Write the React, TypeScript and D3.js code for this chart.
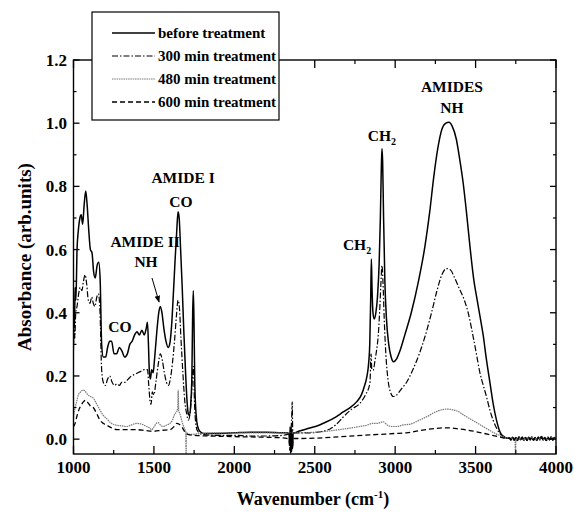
import React from 'react';
import * as d3 from 'd3';

const xTicks = [1000, 1500, 2000, 2500, 3000, 3500, 4000];
const yTicks = [0.0, 0.2, 0.4, 0.6, 0.8, 1.0, 1.2];
const seriesNames = ['before treatment', '300 min treatment', '480 min treatment', '600 min treatment'];

const tailNoise: [number, number][] = [
  [3710, 0.004], [3720, -0.002], [3730, 0.006], [3740, -0.003], [3750, 0.005], [3760, -0.004],
  [3770, 0.007], [3780, -0.002], [3790, 0.006], [3800, -0.003], [3810, 0.005], [3820, -0.004],
  [3830, 0.006], [3840, -0.002], [3850, 0.007], [3860, -0.003], [3870, 0.005], [3880, -0.004],
  [3890, 0.006], [3900, -0.002], [3910, 0.008], [3920, -0.003], [3930, 0.005], [3940, -0.004],
  [3950, 0.006], [3960, -0.002], [3970, 0.007], [3980, -0.003], [3990, 0.005], [4000, 0.0],
];

const beforeTreatment: [number, number][] = [
  [1000, 0.30], [1003, 0.42], [1006, 0.36], [1010, 0.48], [1015, 0.44], [1022, 0.60], [1030, 0.66],
  [1040, 0.70], [1048, 0.71], [1057, 0.68], [1066, 0.74], [1076, 0.785], [1085, 0.74], [1095, 0.66],
  [1105, 0.60], [1115, 0.59], [1125, 0.53], [1135, 0.51], [1147, 0.55], [1157, 0.56], [1166, 0.50],
  [1175, 0.30], [1185, 0.26], [1200, 0.26], [1212, 0.29], [1225, 0.31], [1237, 0.31], [1252, 0.27],
  [1268, 0.27], [1285, 0.29], [1300, 0.28], [1318, 0.26], [1335, 0.27], [1350, 0.30], [1365, 0.31],
  [1380, 0.33], [1395, 0.34], [1410, 0.33], [1425, 0.345], [1440, 0.33], [1452, 0.35], [1460, 0.37],
  [1466, 0.30], [1472, 0.21], [1478, 0.19], [1486, 0.22], [1495, 0.21], [1505, 0.26], [1518, 0.34],
  [1530, 0.40], [1540, 0.42], [1550, 0.40], [1562, 0.35], [1575, 0.31], [1588, 0.29], [1598, 0.30],
  [1610, 0.36], [1622, 0.47], [1632, 0.57], [1642, 0.66], [1650, 0.72], [1657, 0.70], [1666, 0.60],
  [1676, 0.48], [1686, 0.34], [1696, 0.22], [1706, 0.12], [1714, 0.08], [1722, 0.075], [1730, 0.12],
  [1736, 0.20], [1741, 0.40], [1745, 0.47], [1749, 0.38], [1754, 0.18], [1762, 0.08], [1772, 0.04],
  [1785, 0.025], [1810, 0.018], [1900, 0.018], [2000, 0.02], [2100, 0.022], [2200, 0.022],
  [2300, 0.02], [2330, 0.02], [2340, 0.015], [2344, -0.02], [2347, 0.04], [2350, -0.045],
  [2353, 0.035], [2356, -0.04], [2359, 0.03], [2362, -0.03], [2366, 0.02], [2372, 0.02],
  [2400, 0.025], [2470, 0.035], [2530, 0.045], [2574, 0.055], [2630, 0.07], [2677, 0.086],
  [2720, 0.10], [2760, 0.118], [2790, 0.14], [2810, 0.17], [2825, 0.20], [2835, 0.24], [2842, 0.30],
  [2848, 0.45], [2852, 0.57], [2856, 0.48], [2862, 0.40], [2870, 0.38], [2880, 0.40], [2890, 0.45],
  [2900, 0.55], [2908, 0.70], [2914, 0.86], [2918, 0.92], [2922, 0.88], [2928, 0.70], [2936, 0.50],
  [2946, 0.38], [2960, 0.30], [2975, 0.26], [2990, 0.245], [3010, 0.255], [3030, 0.28], [3060, 0.33],
  [3100, 0.40], [3145, 0.50], [3185, 0.61], [3215, 0.72], [3240, 0.83], [3265, 0.92], [3290, 0.98],
  [3315, 1.0], [3335, 1.003], [3355, 0.99], [3380, 0.95], [3400, 0.89], [3423, 0.81], [3445, 0.71],
  [3465, 0.61], [3490, 0.50], [3510, 0.44], [3527, 0.39], [3547, 0.33], [3568, 0.25], [3589, 0.18],
  [3610, 0.11], [3630, 0.06], [3650, 0.025], [3671, 0.008], [3700, 0.003],
  ...tailNoise,
];

const treatment300: [number, number][] = [
  [1000, 0.28], [1004, 0.38], [1008, 0.32], [1014, 0.40], [1022, 0.42], [1032, 0.46], [1042, 0.48],
  [1052, 0.47], [1062, 0.50], [1072, 0.52], [1082, 0.49], [1092, 0.44], [1103, 0.43], [1113, 0.45],
  [1123, 0.43], [1133, 0.42], [1145, 0.45], [1155, 0.46], [1165, 0.40], [1175, 0.22], [1185, 0.18],
  [1198, 0.17], [1212, 0.19], [1225, 0.20], [1240, 0.18], [1255, 0.17], [1270, 0.175], [1285, 0.17],
  [1300, 0.18], [1320, 0.18], [1340, 0.19], [1360, 0.20], [1380, 0.205], [1400, 0.21], [1420, 0.215],
  [1440, 0.22], [1460, 0.22], [1468, 0.17], [1476, 0.12], [1482, 0.11], [1490, 0.15], [1500, 0.14],
  [1512, 0.18], [1525, 0.23], [1540, 0.27], [1552, 0.25], [1565, 0.21], [1578, 0.18], [1590, 0.17],
  [1602, 0.19], [1615, 0.24], [1628, 0.31], [1640, 0.39], [1650, 0.44], [1658, 0.42], [1668, 0.32],
  [1680, 0.21], [1692, 0.12], [1704, 0.08], [1714, 0.06], [1724, 0.08], [1734, 0.14], [1742, 0.22],
  [1746, 0.23], [1752, 0.12], [1760, 0.05], [1772, 0.025], [1800, 0.015], [1900, 0.012],
  [2000, 0.012], [2100, 0.01], [2200, 0.01], [2300, 0.012], [2350, 0.02], [2356, 0.06],
  [2360, 0.118], [2363, 0.03], [2370, 0.02], [2470, 0.02], [2574, 0.028], [2630, 0.045],
  [2677, 0.07], [2730, 0.095], [2780, 0.113], [2815, 0.14], [2843, 0.177], [2850, 0.27],
  [2855, 0.22], [2863, 0.218], [2875, 0.25], [2884, 0.28], [2895, 0.33], [2905, 0.42], [2912, 0.50],
  [2918, 0.55], [2924, 0.50], [2932, 0.38], [2942, 0.27], [2955, 0.19], [2970, 0.15], [2988, 0.135],
  [3010, 0.14], [3040, 0.16], [3071, 0.18], [3110, 0.22], [3150, 0.27], [3185, 0.324], [3226, 0.40],
  [3260, 0.47], [3290, 0.52], [3319, 0.54], [3345, 0.535], [3370, 0.51], [3400, 0.475], [3430, 0.44],
  [3454, 0.40], [3485, 0.324], [3505, 0.27], [3527, 0.21], [3548, 0.17], [3568, 0.134], [3590, 0.09],
  [3609, 0.06], [3630, 0.035], [3651, 0.018], [3680, 0.008], [3700, 0.004],
  ...tailNoise,
];

const treatment480: [number, number][] = [
  [1000, 0.07], [1010, 0.10], [1020, 0.12], [1030, 0.14], [1045, 0.15], [1060, 0.155], [1075, 0.15],
  [1090, 0.14], [1105, 0.135], [1123, 0.13], [1140, 0.115], [1165, 0.092], [1185, 0.075],
  [1206, 0.065], [1235, 0.05], [1268, 0.044], [1300, 0.042], [1330, 0.04], [1360, 0.045],
  [1393, 0.05], [1420, 0.048], [1455, 0.04], [1475, 0.035], [1486, 0.03], [1500, 0.038],
  [1515, 0.05], [1527, 0.052], [1540, 0.045], [1558, 0.04], [1580, 0.045], [1600, 0.05],
  [1615, 0.06], [1630, 0.08], [1641, 0.086], [1648, 0.10], [1651, 0.155], [1654, 0.09], [1662, 0.08],
  [1675, 0.055], [1693, 0.03], [1698, 0.025], [1700, -0.05], [1702, 0.02], [1724, 0.015],
  [1800, 0.018], [1900, 0.02], [2000, 0.02], [2100, 0.02], [2200, 0.02], [2300, 0.02], [2400, 0.02],
  [2500, 0.022], [2574, 0.025], [2650, 0.03], [2720, 0.035], [2780, 0.04], [2830, 0.045],
  [2860, 0.05], [2890, 0.05], [2926, 0.055], [2950, 0.045], [2980, 0.04], [3010, 0.04],
  [3050, 0.045], [3097, 0.048], [3150, 0.06], [3200, 0.072], [3260, 0.088], [3320, 0.095],
  [3380, 0.09], [3430, 0.075], [3480, 0.06], [3530, 0.045], [3580, 0.03], [3630, 0.016],
  [3680, 0.007], [3700, 0.004], [3745, 0.002], [3748, -0.05], [3751, 0.002],
  ...tailNoise.filter((d) => d[0] > 3751),
];

const treatment600: [number, number][] = [
  [1000, 0.04], [1010, 0.05], [1020, 0.07], [1035, 0.095], [1050, 0.11], [1065, 0.12], [1075, 0.123],
  [1090, 0.115], [1105, 0.105], [1123, 0.10], [1145, 0.08], [1165, 0.06], [1185, 0.05],
  [1206, 0.044], [1240, 0.035], [1270, 0.03], [1300, 0.03], [1350, 0.03], [1393, 0.03],
  [1450, 0.027], [1500, 0.025], [1550, 0.028], [1600, 0.03], [1625, 0.04], [1641, 0.05],
  [1655, 0.048], [1672, 0.04], [1690, 0.025], [1710, 0.015], [1750, 0.012], [1850, 0.01],
  [2000, 0.008], [2200, 0.006], [2300, 0.004], [2340, 0.0], [2345, -0.035], [2349, 0.02],
  [2352, -0.04], [2356, 0.015], [2360, -0.03], [2366, 0.002], [2400, 0.002], [2500, 0.003],
  [2600, 0.006], [2700, 0.009], [2800, 0.012], [2900, 0.015], [3000, 0.018], [3071, 0.02],
  [3150, 0.027], [3250, 0.034], [3320, 0.036], [3400, 0.032], [3500, 0.024], [3580, 0.015],
  [3650, 0.007], [3700, 0.002],
  ...tailNoise,
];

const annotations: { text: string; sub?: string; x: number; y: number }[] = [
  { text: 'AMIDES', x: 3353, y: 1.099 },
  { text: 'NH', x: 3353, y: 1.032 },
  { text: 'CH', sub: '2', x: 2917, y: 0.944 },
  { text: 'CH', sub: '2', x: 2763, y: 0.599 },
  { text: 'AMIDE I', x: 1681, y: 0.811 },
  { text: 'CO', x: 1668, y: 0.735 },
  { text: 'AMIDE II', x: 1445, y: 0.608 },
  { text: 'NH', x: 1451, y: 0.545 },
  { text: 'CO', x: 1289, y: 0.339 },
];
const arrowFrom: [number, number] = [1488, 0.51];
const arrowTo: [number, number] = [1532, 0.434];

const W = 574;
const H = 517;
const plot = { left: 73.5, right: 556, top: 60, bottom: 454 };
const FONT = "'Liberation Serif', 'Times New Roman', serif";

const styles = [
  { stroke: '#000', width: 1.5, dash: undefined as string | undefined },
  { stroke: '#000', width: 1.2, dash: '6,2,1.5,2' },
  { stroke: '#777', width: 1.2, dash: '1.5,0.8' },
  { stroke: '#000', width: 1.3, dash: '5,3' },
];

export default function App() {
  const x = d3.scaleLinear().domain([1000, 4000]).range([plot.left, plot.right]);
  const y = d3.scaleLinear().domain([-0.047, 1.2]).range([plot.bottom, plot.top]);
  const line = d3
    .line<[number, number]>()
    .x((d) => x(d[0]))
    .y((d) => y(d[1]))
    .curve(d3.curveMonotoneX);
  const series = [beforeTreatment, treatment300, treatment480, treatment600];
  const xMinor = d3.range(1000, 4001, 250).filter((v) => !xTicks.includes(v));
  const yMinor = [0.1, 0.3, 0.5, 0.7, 0.9, 1.1];

  const legend = { left: 92, right: 279, top: 12, bottom: 120, x0: 112, x1: 155, tx: 158, ys: [33, 56, 79, 102] };

  return (
    <svg width={W} height={H} style={{ position: 'absolute', left: 0, top: 0, background: '#fff' }}>
      <defs>
        <clipPath id="plotclip">
          <rect x={plot.left} y={plot.top} width={plot.right - plot.left} height={plot.bottom - plot.top} />
        </clipPath>
        <marker id="arrowhead" viewBox="0 0 10 10" refX="9" refY="5" markerWidth="7" markerHeight="7" orient="auto">
          <path d="M0,1 L10,5 L0,9 Z" fill="#000" />
        </marker>
      </defs>
      <rect x={0} y={0} width={W} height={H} fill="#fff" />
      <g clipPath="url(#plotclip)">
        {series.map((s, i) => (
          <path
            key={i}
            d={line(s) || ''}
            fill="none"
            stroke={styles[i].stroke}
            strokeWidth={styles[i].width}
            strokeDasharray={styles[i].dash}
            strokeLinejoin="round"
          />
        ))}
      </g>
      <rect
        x={plot.left}
        y={plot.top}
        width={plot.right - plot.left}
        height={plot.bottom - plot.top}
        fill="none"
        stroke="#000"
        strokeWidth={1.4}
      />
      {xTicks.map((t) => (
        <g key={'xt' + t}>
          <line x1={x(t)} x2={x(t)} y1={plot.bottom} y2={plot.bottom - 8} stroke="#000" strokeWidth={1.3} />
          <line x1={x(t)} x2={x(t)} y1={plot.top} y2={plot.top + 8} stroke="#000" strokeWidth={1.3} />
          <text x={x(t)} y={473} textAnchor="middle" fontFamily={FONT} fontWeight="bold" fontSize={17}>
            {t}
          </text>
        </g>
      ))}
      {xMinor.map((t) => (
        <g key={'xm' + t}>
          <line x1={x(t)} x2={x(t)} y1={plot.bottom} y2={plot.bottom - 4} stroke="#000" strokeWidth={1.2} />
          <line x1={x(t)} x2={x(t)} y1={plot.top} y2={plot.top + 4} stroke="#000" strokeWidth={1.2} />
        </g>
      ))}
      {yTicks.map((t) => (
        <g key={'yt' + t}>
          <line x1={plot.left} x2={plot.left + 6} y1={y(t)} y2={y(t)} stroke="#000" strokeWidth={1.3} />
          <line x1={plot.right} x2={plot.right - 6} y1={y(t)} y2={y(t)} stroke="#000" strokeWidth={1.3} />
          <text
            x={67}
            y={y(t)}
            dy="0.35em"
            textAnchor="end"
            fontFamily={FONT}
            fontWeight="bold"
            fontSize={17}
          >
            {t.toFixed(1)}
          </text>
        </g>
      ))}
      {yMinor.map((t) => (
        <g key={'ym' + t}>
          <line x1={plot.left} x2={plot.left + 3} y1={y(t)} y2={y(t)} stroke="#000" strokeWidth={1.2} />
          <line x1={plot.right} x2={plot.right - 3} y1={y(t)} y2={y(t)} stroke="#000" strokeWidth={1.2} />
        </g>
      ))}
      <text x={313} y={505} textAnchor="middle" fontFamily={FONT} fontWeight="bold" fontSize={18}>
        Wavenumber (cm
        <tspan dy={-7} fontSize={11}>
          -1
        </tspan>
        <tspan dy={7}>)</tspan>
      </text>
      <text
        transform={`translate(31, ${(plot.top + plot.bottom) / 2}) rotate(-90)`}
        textAnchor="middle"
        fontFamily={FONT}
        fontWeight="bold"
        fontSize={19}
      >
        Absorbance (arb.units)
      </text>
      {annotations.map((a, i) => (
        <text
          key={'an' + i}
          x={x(a.x)}
          y={y(a.y)}
          textAnchor="middle"
          fontFamily={FONT}
          fontWeight="bold"
          fontSize={15.5}
        >
          {a.text}
          {a.sub && (
            <tspan dy={4} fontSize={10}>
              {a.sub}
            </tspan>
          )}
        </text>
      ))}
      <line
        x1={x(arrowFrom[0])}
        y1={y(arrowFrom[1])}
        x2={x(arrowTo[0])}
        y2={y(arrowTo[1])}
        stroke="#000"
        strokeWidth={1}
        markerEnd="url(#arrowhead)"
      />
      <rect
        x={legend.left}
        y={legend.top}
        width={legend.right - legend.left}
        height={legend.bottom - legend.top}
        fill="#fff"
        stroke="#000"
        strokeWidth={1.2}
      />
      {seriesNames.map((name, i) => (
        <g key={'lg' + i}>
          <line
            x1={legend.x0}
            x2={legend.x1}
            y1={legend.ys[i]}
            y2={legend.ys[i]}
            stroke={styles[i].stroke}
            strokeWidth={styles[i].width}
            strokeDasharray={styles[i].dash}
          />
          <text
            x={legend.tx}
            y={legend.ys[i]}
            dy="0.35em"
            fontFamily={FONT}
            fontWeight="bold"
            fontSize={15}
          >
            {name}
          </text>
        </g>
      ))}
    </svg>
  );
}
